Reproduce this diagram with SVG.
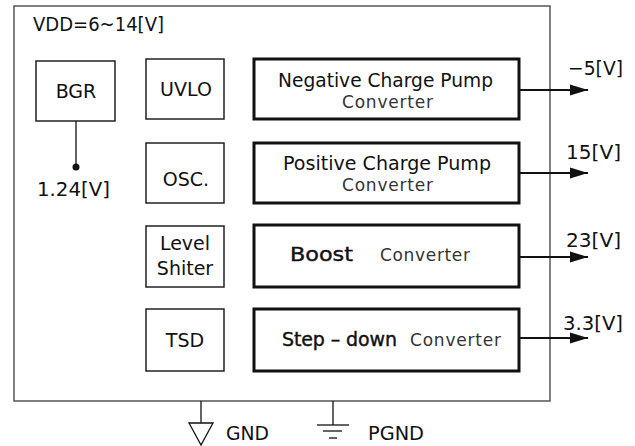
<svg xmlns="http://www.w3.org/2000/svg" width="635" height="446" viewBox="0 0 635 446">
<style>
text{font-family:"DejaVu Sans","Liberation Sans",Arial,sans-serif;fill:#111}
.sm{fill:#fff;stroke:#222;stroke-width:1.5}
.cv{fill:#fff;stroke:#111;stroke-width:3}
.box{font-size:19px}
.lbl{font-size:20px}
.main{font-size:19px}
.hv{stroke:#111;stroke-width:0.4}
.sub{font-size:17px;fill:#333}
.mid{text-anchor:middle}
.wire{stroke:#111;stroke-width:2;fill:none}
.thin{stroke:#111;stroke-width:1.3;fill:none}
</style>
<defs>
<marker id="ah" markerWidth="18" markerHeight="12" refX="18" refY="6" orient="auto" markerUnits="userSpaceOnUse" viewBox="0 0 18 12">
<path d="M0,0.5 L18,6 L0,11.5 Z" fill="#111"/>
</marker>
</defs>
<g id="chip">
<rect x="14" y="6" width="536" height="395" fill="#fff" stroke="#555" stroke-width="1.5"/>
<text x="33" y="31" class="lbl" font-size="18.5" textLength="131" lengthAdjust="spacingAndGlyphs">VDD=6~14[V]</text>
</g>
<g id="bgr">
<rect class="sm" x="36" y="61" width="79" height="60"/>
<text x="76" y="98" class="box mid">BGR</text>
</g>
<g id="bgr-out">
<text x="37" y="196" class="lbl" textLength="73" lengthAdjust="spacingAndGlyphs">1.24[V]</text>
</g>
<g id="uvlo">
<rect class="sm" x="146" y="59" width="78" height="60"/>
<text x="186" y="96" class="box mid">UVLO</text>
</g>
<g id="osc">
<rect class="sm" x="146" y="143" width="78" height="60"/>
<text x="186" y="186" class="box mid">OSC.</text>
</g>
<g id="level">
<rect class="sm" x="146" y="226" width="78" height="61"/>
<text x="185" y="250" class="box mid">Level</text>
<text x="185" y="275" class="box mid">Shiter</text>
</g>
<g id="tsd">
<rect class="sm" x="146" y="309" width="78" height="62"/>
<text x="185" y="347" class="box mid">TSD</text>
</g>
<g id="neg">
<rect class="cv" x="254" y="59" width="265" height="60"/>
<text x="278" y="87" class="main" textLength="215" lengthAdjust="spacingAndGlyphs">Negative Charge Pump</text>
<text x="342" y="108" class="sub" textLength="91" lengthAdjust="spacing">Converter</text>
</g>
<g id="pos">
<rect class="cv" x="254" y="143" width="265" height="60"/>
<text x="283" y="170" class="main" textLength="208" lengthAdjust="spacingAndGlyphs">Positive Charge Pump</text>
<text x="342" y="191" class="sub" textLength="91" lengthAdjust="spacing">Converter</text>
</g>
<g id="boost">
<rect class="cv" x="254" y="225" width="265" height="62"/>
<text x="290" y="261" class="main hv" textLength="63" lengthAdjust="spacingAndGlyphs">Boost</text>
<text x="380" y="261" class="sub" textLength="90" lengthAdjust="spacing">Converter</text>
</g>
<g id="stepdown">
<rect class="cv" x="254" y="309" width="265" height="62"/>
<text x="282" y="346" class="main hv" textLength="115" lengthAdjust="spacing">Step – down</text>
<text x="410" y="346" class="sub" textLength="91" lengthAdjust="spacing">Converter</text>
</g>
<g id="connectors">
<line class="thin" x1="76" y1="121" x2="76" y2="167"/>
<circle cx="76" cy="167" r="3.5" fill="#111"/>
<line class="wire" x1="519" y1="90" x2="588" y2="90" marker-end="url(#ah)"/>
<line class="wire" x1="519" y1="173" x2="588" y2="173" marker-end="url(#ah)"/>
<line class="wire" x1="519" y1="257" x2="588" y2="257" marker-end="url(#ah)"/>
<line class="wire" x1="519" y1="338" x2="588" y2="338" marker-end="url(#ah)"/>
</g>
<g id="outputs">
<text x="568" y="75" class="lbl" textLength="55" lengthAdjust="spacingAndGlyphs">−5[V]</text>
<text x="566" y="159" class="lbl" textLength="55" lengthAdjust="spacingAndGlyphs">15[V]</text>
<text x="566" y="247" class="lbl" textLength="55" lengthAdjust="spacingAndGlyphs">23[V]</text>
<text x="563" y="330" class="lbl" textLength="60" lengthAdjust="spacingAndGlyphs">3.3[V]</text>
</g>
<g id="gnd">
<line class="thin" x1="201" y1="401" x2="201" y2="423"/>
<path d="M189,423 L213,423 L201,445 Z" fill="#fff" stroke="#111" stroke-width="1.3"/>
<text x="226" y="440" class="lbl" font-size="19" textLength="43" lengthAdjust="spacingAndGlyphs">GND</text>
</g>
<g id="pgnd">
<line class="thin" x1="333" y1="401" x2="333" y2="425"/>
<line class="thin" x1="317" y1="425" x2="349" y2="425"/>
<line class="thin" x1="323" y1="431" x2="342" y2="431"/>
<line class="thin" x1="329" y1="438" x2="337" y2="438"/>
<text x="368" y="440" class="lbl" font-size="19" textLength="56" lengthAdjust="spacingAndGlyphs">PGND</text>
</g>
</svg>
